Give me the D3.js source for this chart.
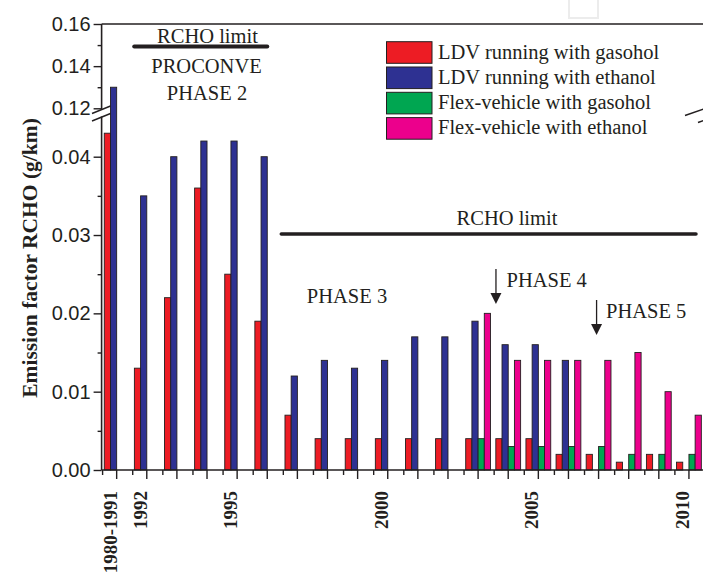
<!DOCTYPE html>
<html>
<head>
<meta charset="utf-8">
<script src="https://cdn.jsdelivr.net/npm/d3@7"></script>
<style>
  html, body { margin: 0; padding: 0; background: #fff; }
  svg { display: block; }
</style>
</head>
<body>
<svg id="chart" width="703" height="577"></svg>
<script>
// Categories (model years) and RCHO emission factors in g/km
const categories = ["1980-1991","1992","1993","1994","1995","1996","1997","1998","1999","2000",
                    "2001","2002","2003","2004","2005","2006","2007","2008","2009","2010"];
const labelledYears = ["1980-1991","1992","1995","2000","2005","2010"];

const ldvGasohol  = [0.043,0.013,0.022,0.036,0.025,0.019,0.007,0.004,0.004,0.004,
                     0.004,0.004,0.004,0.004,0.004,0.002,0.002,0.001,0.002,0.001];
const ldvEthanol  = [0.130,0.035,0.040,0.042,0.042,0.040,0.012,0.014,0.013,0.014,
                     0.017,0.017,0.019,0.016,0.016,0.014,0,0,0,0];
const flexGasohol = [0,0,0,0,0,0,0,0,0,0,
                     0,0,0.004,0.003,0.003,0.003,0.003,0.002,0.002,0.002];
const flexEthanol = [0,0,0,0,0,0,0,0,0,0,
                     0,0,0.020,0.014,0.014,0.014,0.014,0.015,0.010,0.007];

const seriesNames = ["LDV running with gasohol","LDV running with ethanol",
                     "Flex-vehicle with gasohol","Flex-vehicle with ethanol"];
const seriesValues = [ldvGasohol, ldvEthanol, flexGasohol, flexEthanol];
const seriesColors = ["#ed1c24","#2e3192","#00a651","#ec008c"];

// Tick values for the broken y axis
const lowerTicks = [0, 0.01, 0.02, 0.03, 0.04];
const lowerMinor = [0.005, 0.015, 0.025, 0.035];
const upperTicks = [0.12, 0.14, 0.16];
const upperMinor = [0.13, 0.15];

// Emission limits (g/km)
const limitPhase2 = 0.15;
const limitPhase3 = 0.03;

const ink = "#231f20";
const serif = "'Liberation Serif','Times New Roman',serif";
const sans = "'Liberation Sans',Arial,sans-serif";

const svg = d3.select("#chart");

// Layout
const left = 101.6, right = 704, baseY = 470, topY = 24;
const breakLowY = 116.5, breakHighY = 110;

const x = d3.scaleBand().domain(categories).range([left, right]).padding(0);
const inner = d3.scaleBand().domain(d3.range(4)).range([-12.4, 12.4]).padding(0);

const yLow = d3.scaleLinear().domain([0, 0.04]).range([baseY, 156.7]);
const yHigh = d3.scaleLinear().domain([0.12, 0.16]).range([108.3, topY]);
const lowMax = yLow.invert(breakLowY);
const y = v => (v <= lowMax ? yLow(v) : yHigh(v));

const cx = c => x(c) + x.bandwidth() / 2;

// Faint box near the top edge
svg.append("rect").attr("x", 569).attr("y", -4).attr("width", 29).attr("height", 22)
  .attr("fill", "none").attr("stroke", "#ececec").attr("stroke-width", 2);

// Bars
const barData = [];
seriesValues.forEach((vals, s) => {
  vals.forEach((v, i) => { if (v > 0) barData.push({ s, c: categories[i], v }); });
});

svg.append("g").selectAll("rect").data(barData).join("rect")
  .attr("x", d => cx(d.c) + inner(d.s))
  .attr("width", inner.bandwidth())
  .attr("y", d => y(d.v))
  .attr("height", d => baseY - y(d.v))
  .attr("fill", d => seriesColors[d.s])
  .attr("stroke", ink)
  .attr("stroke-width", 0.9);

// Frame: top line and broken left axis
const frame = svg.append("g").attr("stroke", ink).attr("stroke-width", 1.6).attr("fill", "none");
frame.append("line").attr("x1", left).attr("x2", right).attr("y1", topY).attr("y2", topY);
frame.append("line").attr("x1", left).attr("x2", left).attr("y1", topY).attr("y2", breakHighY);
frame.append("line").attr("x1", left).attr("x2", left).attr("y1", breakLowY).attr("y2", baseY);
frame.append("line").attr("x1", left).attr("x2", right).attr("y1", baseY).attr("y2", baseY);

// Break marks
const brk = svg.append("g").attr("stroke", ink).attr("stroke-width", 1.4);
brk.append("line").attr("x1", 92).attr("y1", 113.5).attr("x2", 110.5).attr("y2", 106);
brk.append("line").attr("x1", 92).attr("y1", 121).attr("x2", 110.5).attr("y2", 113.5);
brk.append("line").attr("x1", 685).attr("y1", 115.5).attr("x2", 704).attr("y2", 109);
brk.append("line").attr("x1", 698).attr("y1", 122.5).attr("x2", 704).attr("y2", 120.3);

// Y axes (lower and upper segments)
function styleAxis(g) {
  g.select(".domain").remove();
  g.selectAll(".tick line").attr("stroke", ink).attr("stroke-width", 1.4);
  g.selectAll(".tick text").attr("fill", ink).attr("font-family", sans).attr("font-size", 20);
}
const fmt = d3.format(".2f");
svg.append("g").attr("transform", `translate(${left},0)`)
  .call(d3.axisLeft(yLow).tickValues(lowerTicks).tickFormat(fmt).tickSize(8).tickPadding(3))
  .call(styleAxis);
svg.append("g").attr("transform", `translate(${left},0)`)
  .call(d3.axisLeft(yLow).tickValues(lowerMinor).tickFormat("").tickSize(4))
  .call(styleAxis);
svg.append("g").attr("transform", `translate(${left},0)`)
  .call(d3.axisLeft(yHigh).tickValues(upperTicks).tickFormat(fmt).tickSize(8).tickPadding(3))
  .call(styleAxis);
svg.append("g").attr("transform", `translate(${left},0)`)
  .call(d3.axisLeft(yHigh).tickValues(upperMinor).tickFormat("").tickSize(4))
  .call(styleAxis);

// X axis: major ticks at categories, minor ticks at category boundaries
const xAxisG = svg.append("g").attr("transform", `translate(0,${baseY})`)
  .call(d3.axisBottom(x).tickSize(9)
    .tickFormat(c => labelledYears.includes(c) ? c : ""));
xAxisG.select(".domain").remove();
xAxisG.selectAll(".tick line").attr("stroke", ink).attr("stroke-width", 1.4);
xAxisG.selectAll(".tick text")
  .attr("transform", "rotate(-90)")
  .attr("x", -21).attr("y", 0).attr("dy", 0)
  .attr("text-anchor", "end")
  .attr("fill", ink)
  .attr("font-family", serif).attr("font-weight", "bold").attr("font-size", 19);

svg.append("g").attr("stroke", ink).attr("stroke-width", 1.4)
  .selectAll("line").data(categories).join("line")
  .attr("x1", c => x(c) + 1).attr("x2", c => x(c) + 1)
  .attr("y1", baseY).attr("y2", baseY + 5);

// Y axis title
svg.append("text")
  .attr("transform", "translate(37,258) rotate(-90)")
  .attr("text-anchor", "middle")
  .attr("font-family", serif).attr("font-weight", "bold").attr("font-size", 21.5)
  .attr("fill", ink)
  .text("Emission factor RCHO (g/km)");

// Emission limit lines
const limits = svg.append("g").attr("stroke", ink).attr("stroke-linecap", "round");
limits.append("line")
  .attr("x1", x("1992") + 2.5).attr("x2", cx("1996"))
  .attr("y1", y(limitPhase2) + 1.3).attr("y2", y(limitPhase2) + 1.3)
  .attr("stroke-width", 4);
limits.append("line")
  .attr("x1", x("1997") - 1).attr("x2", cx("2010") + 7)
  .attr("y1", y(limitPhase3) - 1).attr("y2", y(limitPhase3) - 1)
  .attr("stroke-width", 3.6);

// Annotation text
const note = (tx, ty, str, anchor = "middle") =>
  svg.append("text").attr("x", tx).attr("y", ty).attr("text-anchor", anchor)
    .attr("font-family", serif).attr("font-size", 20.5).attr("fill", ink)
    .text(str);

note(207.5, 42.5, "RCHO limit");
note(206.5, 73, "PROCONVE");
note(207, 99.5, "PHASE 2");
note(507, 225, "RCHO limit");
note(347, 303, "PHASE 3");
note(506.5, 287, "PHASE 4", "start");
note(606, 318, "PHASE 5", "start");

// Phase arrows
function arrow(ax, y1, y2) {
  svg.append("line").attr("x1", ax).attr("x2", ax).attr("y1", y1).attr("y2", y2 - 10)
    .attr("stroke", ink).attr("stroke-width", 1.3);
  svg.append("path")
    .attr("d", `M${ax - 5.5},${y2 - 11} L${ax + 5.5},${y2 - 11} L${ax},${y2} Z`)
    .attr("fill", ink);
}
arrow(x("2004") + 2.8, 269, 304);
arrow(cx("2007") - 2, 300, 335);

// Legend
const legend = svg.append("g");
seriesNames.forEach((name, i) => {
  const ly = 41.7 + i * 25.3;
  legend.append("rect").attr("x", 386.5).attr("y", ly).attr("width", 45.5).attr("height", 21.6)
    .attr("fill", seriesColors[i]).attr("stroke", ink).attr("stroke-width", 1);
  legend.append("text").attr("x", 438).attr("y", ly + 16.8)
    .attr("font-family", serif).attr("font-size", 20.5).attr("fill", ink)
    .text(name);
});
</script>
</body>
</html>
